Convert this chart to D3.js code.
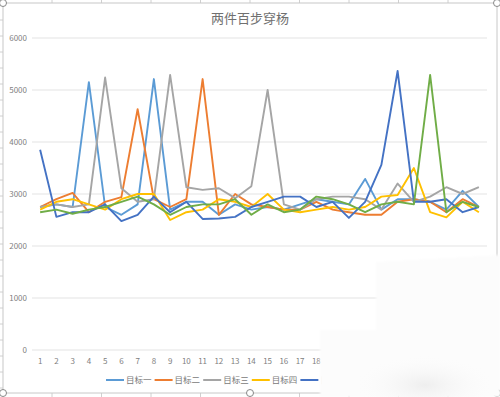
<!DOCTYPE html>
<html lang="zh">
<head>
<meta charset="utf-8">
<title>两件百步穿杨</title>
<script src="https://d3js.org/d3.v7.min.js"></script>
<style>
  body { margin: 0; background: #ffffff; }
  text { font-family: 'Noto Sans CJK SC', 'Open Sans', sans-serif; }
  .grid line { stroke: #dcdcdc; stroke-width: 0.8; }
  .tick-lbl { font-size: 8px; fill: #808080; }
</style>
</head>
<body>
<div id="container"></div>
<script>
var w = 500;
var h = 397;

// ---- data ----
var categories = d3.range(1, 29);
var seriesNames = ["目标一", "目标二", "目标三", "目标四", "目标五", "目标六"];
var seriesColors = ["#5b9bd5", "#ed7d31", "#a5a5a5", "#ffc000", "#4472c4", "#70ad47"];
var yTicks = [0, 1000, 2000, 3000, 4000, 5000, 6000];

var target1 = [2750, 2800, 2750, 5150, 2750, 2600, 2800, 5210, 2700, 2850, 2850, 2600, 2800, 2700,
               2750, 2700, 2800, 2900, 2850, 2800, 3290, 2700, 2900, 2900, 2850, 2700, 3060, 2750];
var target2 = [2750, 2900, 3020, 2650, 2850, 2940, 4630, 2900, 2750, 2900, 5210, 2600, 3000, 2800,
               2750, 2700, 2700, 2850, 2700, 2650, 2600, 2600, 2850, 2900, 2850, 2650, 2900, 2750];
var target3 = [2750, 2800, 2750, 2800, 5240, 3110, 2850, 2900, 5290, 3130, 3080, 3110, 2920, 3150,
               5000, 2800, 2700, 2900, 2950, 2950, 2900, 2700, 3200, 2850, 2950, 3130, 3000, 3130];
var target4 = [2700, 2850, 2900, 2800, 2700, 2900, 3000, 3000, 2500, 2650, 2700, 2900, 2850, 2750,
               3000, 2700, 2650, 2700, 2750, 2700, 2750, 2950, 2980, 3500, 2650, 2550, 2850, 2650];
var target5 = [3850, 2560, 2650, 2650, 2800, 2480, 2600, 2950, 2650, 2850, 2520, 2530, 2560, 2750,
               2850, 2950, 2950, 2750, 2850, 2540, 2850, 3560, 5365, 2850, 2850, 2900, 2650, 2750];
var target6 = [2650, 2700, 2620, 2700, 2750, 2850, 2950, 2800, 2600, 2750, 2800, 2800, 2900, 2600,
               2800, 2650, 2700, 2950, 2900, 2800, 2650, 2800, 2850, 2800, 5290, 2650, 2850, 2750];
var allSeries = [target1, target2, target3, target4, target5, target6];

var svg = d3.select("div#container")
  .append("svg")
  .attr("width", w)
  .attr("height", h)
  .style("display", "block");

// ---- spreadsheet frame behind the chart ----
var cols = d3.range(52, 500, 49.5);
svg.selectAll("line.col")
  .data(cols)
  .enter().append("line")
  .attr("x1", d => d).attr("x2", d => d)
  .attr("y1", 0).attr("y2", 4)
  .attr("stroke", "#d0d0d0");
svg.selectAll("line.colb")
  .data(cols)
  .enter().append("line")
  .attr("x1", d => d).attr("x2", d => d)
  .attr("y1", 393).attr("y2", h)
  .attr("stroke", "#d0d0d0");
svg.selectAll("line.row")
  .data(d3.range(20, 393, 16))
  .enter().append("line")
  .attr("x1", 0).attr("x2", 3)
  .attr("y1", d => d).attr("y2", d => d)
  .attr("stroke", "#d0d0d0");

svg.append("rect")
  .attr("x", 3).attr("y", 3)
  .attr("width", 494).attr("height", 390)
  .attr("fill", "#ffffff")
  .attr("stroke", "#c8c8c8")
  .attr("stroke-width", 1);

// ---- scales ----
var x = d3.scaleBand()
  .domain(categories)
  .range([32, 487])
  .padding(0);

var y = d3.scaleLinear()
  .domain([0, 6000])
  .range([350, 38]);

var cx = function(d) { return x(d) + x.bandwidth() / 2; };

// ---- grid and axes ----
var grid = svg.append("g").attr("class", "grid");
grid.selectAll("line")
  .data(yTicks)
  .enter().append("line")
  .attr("x1", 32).attr("x2", 487)
  .attr("y1", d => y(d)).attr("y2", d => y(d));

svg.selectAll("text.ylbl")
  .data(yTicks)
  .enter().append("text")
  .attr("class", "tick-lbl")
  .attr("x", 27)
  .attr("y", d => y(d) + 3)
  .attr("text-anchor", "end")
  .text(d => d);

svg.selectAll("text.xlbl")
  .data(categories)
  .enter().append("text")
  .attr("class", "tick-lbl")
  .attr("x", d => cx(d))
  .attr("y", 364)
  .attr("text-anchor", "middle")
  .text(d => d);

// ---- title ----
svg.append("text")
  .attr("x", 250)
  .attr("y", 23)
  .attr("text-anchor", "middle")
  .style("font-size", "13px")
  .style("fill", "#707070")
  .text("两件百步穿杨");

// ---- lines ----
var line = d3.line()
  .x((d, i) => cx(categories[i]))
  .y(d => y(d));

svg.selectAll("path.series")
  .data(allSeries)
  .enter().append("path")
  .attr("class", "series")
  .attr("d", d => line(d))
  .attr("fill", "none")
  .attr("stroke", (d, i) => seriesColors[i])
  .attr("stroke-width", 1.9)
  .attr("stroke-linejoin", "round");

// ---- legend ----
var leg = svg.selectAll("g.leg")
  .data(seriesNames)
  .enter().append("g")
  .attr("class", "leg")
  .attr("transform", (d, i) => "translate(" + (106 + i * 48.6) + ",380)");
leg.append("line")
  .attr("x1", 0).attr("x2", 18)
  .attr("y1", 0).attr("y2", 0)
  .attr("stroke", (d, i) => seriesColors[i])
  .attr("stroke-width", 2);
leg.append("text")
  .attr("x", 20)
  .attr("y", 3)
  .style("font-size", "8.5px")
  .style("fill", "#7a7a7a")
  .text(d => d);

// ---- selection handles ----
var handles = [[3, 3], [497, 3], [3, 393], [250, 393], [497, 393]];
svg.selectAll("circle.hdl")
  .data(handles)
  .enter().append("circle")
  .attr("cx", d => d[0]).attr("cy", d => d[1])
  .attr("r", 3.5)
  .attr("fill", "#ffffff")
  .attr("stroke", "#888888")
  .attr("stroke-width", 1);

// ---- whitish smudge over the lower right of the photo ----
var defs = svg.append("defs");
defs.append("filter").attr("id", "soft")
  .append("feGaussianBlur").attr("stdDeviation", 1.2);
var rg = defs.append("radialGradient").attr("id", "shade")
  .attr("cx", "50%").attr("cy", "50%").attr("r", "50%");
rg.append("stop").attr("offset", "0%").attr("stop-color", "#eeeeee");
rg.append("stop").attr("offset", "100%").attr("stop-color", "#fcfcfc").attr("stop-opacity", 0);

svg.append("path")
  .attr("d", "M376,262 L500,255 L500,397 L320,397 L320,330 L376,330 Z")
  .attr("fill", "#fcfcfc")
  .attr("filter", "url(#soft)");
svg.append("ellipse")
  .attr("cx", 425).attr("cy", 385)
  .attr("rx", 70).attr("ry", 30)
  .attr("fill", "url(#shade)");
</script>
</body>
</html>
